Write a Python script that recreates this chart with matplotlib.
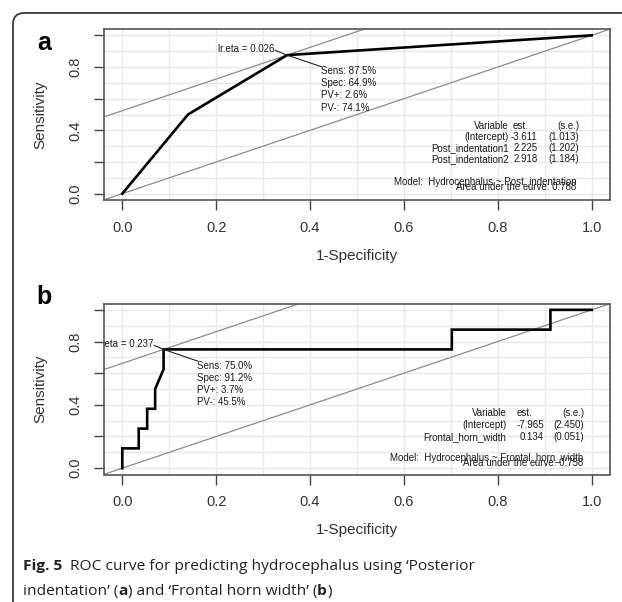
import matplotlib
matplotlib.use("Agg")
import matplotlib.pyplot as plt
from matplotlib.patches import FancyBboxPatch
import numpy as np

plt.rcParams['font.family'] = ['Liberation Sans', 'DejaVu Sans']

# panel a: Hydrocephalus ~ Post_indentation
a_fpr = [0.0, 0.140, 0.351, 1.0]
a_tpr = [0.0, 0.500, 0.875, 1.0]
a_opt = (0.351, 0.875)
a_cut = "lr.eta = 0.026"
a_stats = ["Sens: 87.5%", "Spec: 64.9%", "PV+: 2.6%", "PV-: 74.1%"]
a_vars = ["(Intercept)", "Post_indentation1", "Post_indentation2"]
a_est = ["-3.611", "2.225", "2.918"]
a_se = ["(1.013)", "(1.202)", "(1.184)"]
a_model = "Model:  Hydrocephalus ~ Post_indentation"
a_auc = "Area under the curve: 0.788"

# panel b: Hydrocephalus ~ Frontal_horn_width
b_fpr = [0.0, 0.0, 0.035, 0.035, 0.053, 0.053, 0.070, 0.070, 0.088, 0.088,
         0.702, 0.702, 0.912, 0.912, 1.0]
b_tpr = [0.0, 0.125, 0.125, 0.25, 0.25, 0.375, 0.375, 0.5, 0.625, 0.75,
         0.75, 0.875, 0.875, 1.0, 1.0]
b_opt = (0.088, 0.75)
b_cut = "lr.eta = 0.237"
b_stats = ["Sens: 75.0%", "Spec: 91.2%", "PV+: 3.7%", "PV-: 45.5%"]
b_vars = ["(Intercept)", "Frontal_horn_width"]
b_est = ["-7.965", "0.134"]
b_se = ["(2.450)", "(0.051)"]
b_model = "Model:  Hydrocephalus ~ Frontal_horn_width"
b_auc = "Area under the curve: 0.758"

W, H = 622, 602
fig = plt.figure(figsize=(W / 100, H / 100), dpi=100)

# outer rounded frame
bg = fig.add_axes([0, 0, 1, 1])
bg.set_xlim(0, W)
bg.set_ylim(H, 0)
bg.axis('off')
bg.add_patch(FancyBboxPatch((13, 13), 700, 700, boxstyle="round,pad=0,rounding_size=11",
                            fc='white', ec='#3a3a3a', lw=1.3))


def roc_panel(top, fpr, tpr, opt, cut, stats, vars_, est, se, model, auc, lay):
    left, right, bottom = 103.5, 610.5, top + 171
    ax = fig.add_axes([left / W, 1 - bottom / H, (right - left) / W, 171 / H])
    ax.set_xlim(-0.04, 1.04)
    ax.set_ylim(-0.04, 1.04)
    for g in np.arange(0, 1.01, 0.1):
        ax.axvline(g, color='#e8e8e8', lw=1, zorder=0)
        ax.axhline(g, color='#e8e8e8', lw=1, zorder=0)
    ax.plot([-0.1, 1.1], [-0.1, 1.1], color='#8c8c8c', lw=0.9)
    off = opt[1] - opt[0]
    ax.plot([-0.1, 1.1], [-0.1 + off, 1.1 + off], color='#8c8c8c', lw=0.9)
    ax.plot(fpr, tpr, color='black', lw=1.9, solid_joinstyle='miter')

    # optimal cut-off annotation
    ax.text(lay['cut'][0], lay['cut'][1], cut, ha='right', va='center', fontsize=7,
            color='#1a1a1a', clip_on=True)
    ax.plot([lay['cut'][0] + 0.002, opt[0], lay['sens'][0]],
            [lay['cut'][1] - 0.01, opt[1], lay['sens'][1] + 0.03], color='#222', lw=0.8)
    for i, s in enumerate(stats):
        ax.text(lay['sens'][0], lay['sens'][1] - i * lay['dy'], s, ha='left', va='center',
                fontsize=7, color='#1a1a1a')

    # coefficient table
    c1, c2h, c2, c3 = lay['cols']
    y0, dy = lay['rows']
    fs = 7
    ax.text(c1, y0, "Variable", ha='right', va='center', fontsize=fs, color='#1a1a1a')
    ax.text(c2h, y0, "est.", ha='right', va='center', fontsize=fs, color='#1a1a1a')
    ax.text(c3, y0, "(s.e.)", ha='right', va='center', fontsize=fs, color='#1a1a1a')
    for i in range(len(vars_)):
        y = y0 - (i + 1) * dy
        ax.text(c1, y, vars_[i], ha='right', va='center', fontsize=fs, color='#1a1a1a')
        ax.text(c2, y, est[i], ha='right', va='center', fontsize=fs, color='#1a1a1a')
        ax.text(c3, y, se[i], ha='right', va='center', fontsize=fs, color='#1a1a1a')
    ax.text(lay['model'][0], lay['model'][1], model, ha='right', va='center',
            fontsize=fs, color='#1a1a1a')
    ax.text(lay['model'][0], lay['model'][1] - 0.028, auc, ha='right', va='center',
            fontsize=fs, color='#1a1a1a')

    ax.set_xticks(np.arange(0, 1.01, 0.2))
    ax.set_xticklabels(['0.0', '0.2', '0.4', '0.6', '0.8', '1.0'])
    ax.set_yticks(np.arange(0, 1.01, 0.2))
    ax.set_yticklabels(['0.0', '', '0.4', '', '0.8', ''], rotation=90, va='center')
    ax.tick_params(length=7, width=1, color='#444', labelsize=10.5, labelcolor='#333', pad=8)
    ax.tick_params(axis='y', pad=8)
    for sp in ax.spines.values():
        sp.set_color('#555')
        sp.set_linewidth(1.2)
    ax.set_xlabel("1-Specificity", fontsize=11, color='#333', labelpad=10)
    ax.set_ylabel("Sensitivity", fontsize=11, color='#333', labelpad=15)
    return ax


roc_panel(29, a_fpr, a_tpr, a_opt, a_cut, a_stats, a_vars, a_est, a_se, a_model, a_auc,
          {'cut': (0.324, 0.915), 'sens': (0.424, 0.772), 'dy': 0.076,
           'cols': (0.823, 0.864, 0.885, 0.973), 'rows': (0.428, 0.07),
           'model': (0.968, 0.072)})
roc_panel(303.5, b_fpr, b_tpr, b_opt, b_cut, b_stats, b_vars, b_est, b_se, b_model, b_auc,
          {'cut': (0.066, 0.785), 'sens': (0.16, 0.647), 'dy': 0.076,
           'cols': (0.818, 0.874, 0.898, 0.984), 'rows': (0.351, 0.076),
           'model': (0.983, 0.063)})

fig.text(37 / W, 1 - 50 / H, "a", fontsize=18, fontweight='bold', ha='left', va='baseline')
fig.text(36 / W, 1 - 304 / H, "b", fontsize=18, fontweight='bold', ha='left', va='baseline')

# caption with mixed bold pieces
fig.canvas.draw()
renderer = fig.canvas.get_renderer()
cap_font = ['Open Sans', 'Noto Sans', 'DejaVu Sans']
cap_fs = 11.15


def text_w(s, weight):
    t = fig.text(0, 0, s, fontsize=cap_fs, family=cap_font, fontweight=weight)
    w = t.get_window_extent(renderer).width
    t.remove()
    return w


gap = text_w("n n", 'normal') - text_w("nn", 'normal')
lines = [
    [("Fig. 5", 'bold', 2), ("ROC curve for predicting hydrocephalus using \u2018Posterior", 'normal', 0)],
    [("indentation\u2019 (", 'normal', 0), ("a", 'bold', 0), (") and \u2018Frontal horn width\u2019 (", 'normal', 0),
     ("b", 'bold', 0), (")", 'normal', 0)],
]
for row, base in zip(lines, [570, 595]):
    x = 23
    for s, wt, sp in row:
        t = fig.text(x / W, 1 - base / H, s, fontsize=cap_fs, family=cap_font, fontweight=wt,
                     ha='left', va='baseline', color='#222')
        x += t.get_window_extent(renderer).width + sp * gap

fig.savefig("out.png", dpi=100)
